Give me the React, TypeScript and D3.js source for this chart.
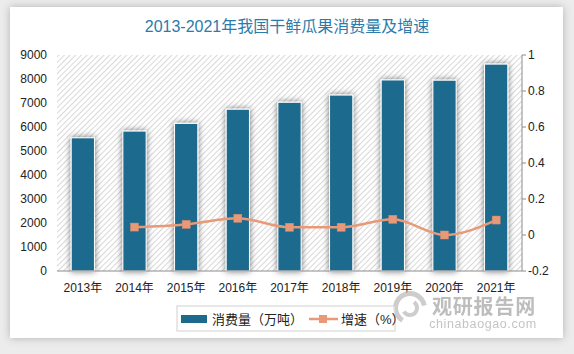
import * as d3 from "d3";

const years = ["2013年", "2014年", "2015年", "2016年", "2017年", "2018年", "2019年", "2020年", "2021年"];
const consumption = [5550, 5830, 6150, 6740, 7030, 7330, 7960, 7950, 8620];
const growth: (number | null)[] = [null, 0.044, 0.059, 0.093, 0.043, 0.043, 0.087, 0.0, 0.083];
const leftTicks = [0, 1000, 2000, 3000, 4000, 5000, 6000, 7000, 8000, 9000];
const rightTicks = [-0.2, 0, 0.2, 0.4, 0.6, 0.8, 1];

const W = 574;
const H = 354;
const M = { left: 57, right: 522, top: 55, bottom: 271 };
const BAR = "#1d6a8e";
const LINE = "#e89a78";
const FONT = "'Liberation Sans', Arial, 'Noto Sans CJK SC', sans-serif";

export default function App() {
    const x = d3.scaleBand<string>().domain(years).range([M.left, M.right]);
    const yL = d3.scaleLinear().domain([0, 9000]).range([M.bottom, M.top]);
    const yR = d3.scaleLinear().domain([-0.2, 1]).range([M.bottom, M.top]);
    const bw = x.bandwidth() * 0.45;
    const cx = (d: string) => (x(d) ?? 0) + x.bandwidth() / 2;

    const pts = years
        .map((y, i) => ({ y, v: growth[i] }))
        .filter((p) => p.v !== null) as { y: string; v: number }[];
    const line = d3
        .line<{ y: string; v: number }>()
        .x((d) => cx(d.y))
        .y((d) => yR(d.v))
        .curve(d3.curveMonotoneX);

    // watermark logo swirl
    const swirl = d3.arc()({ innerRadius: 12, outerRadius: 17, startAngle: -2.6, endAngle: 1.4 }) ?? "";
    const swirl2 = d3.arc()({ innerRadius: 5, outerRadius: 9, startAngle: 0.6, endAngle: 4.2 }) ?? "";

    return (
        <div style={{ position: "fixed", left: 0, top: 0, width: W, height: H }}>
            <svg width={W} height={H} style={{ display: "block", fontFamily: FONT }}>
                <defs>
                    <pattern id="hatch" width="4" height="4" patternUnits="userSpaceOnUse" patternTransform="rotate(45)">
                        <rect width="4" height="4" fill="#ffffff" />
                        <line x1="0" y1="0" x2="0" y2="4" stroke="#cfcfcf" strokeWidth="1.6" />
                    </pattern>
                    <filter id="cardShadow" x="-10%" y="-10%" width="120%" height="120%">
                        <feDropShadow dx="0" dy="0" stdDeviation="4" floodColor="#000" floodOpacity="0.25" />
                    </filter>
                    <filter id="barShadow" x="-60%" y="-10%" width="220%" height="120%">
                        <feDropShadow dx="0" dy="0" stdDeviation="3" floodColor="#000" floodOpacity="0.55" />
                    </filter>
                </defs>
                <rect x={0} y={0} width={W} height={H} fill="#ececec" />
                <rect x={10} y={7} width={553} height={331} fill="#ffffff" filter="url(#cardShadow)" />

                <text x={287} y={32} textAnchor="middle" fontSize={16} fill="#2b7bab">
                    2013-2021年我国干鲜瓜果消费量及增速
                </text>

                <rect x={M.left} y={M.top} width={M.right - M.left} height={M.bottom - M.top} fill="url(#hatch)" />

                {years.map((y, i) => (
                    <rect
                        key={y}
                        x={cx(y) - bw / 2}
                        y={yL(consumption[i])}
                        width={bw}
                        height={M.bottom - yL(consumption[i])}
                        fill={BAR}
                        stroke="#ffffff"
                        strokeWidth={1}
                        filter="url(#barShadow)"
                    />
                ))}

                <line x1={M.left} x2={M.right} y1={M.bottom} y2={M.bottom} stroke="#8c8c8c" />
                <line x1={M.right} x2={M.right} y1={M.top} y2={M.bottom} stroke="#8c8c8c" />

                {leftTicks.map((t) => (
                    <text key={t} x={47} y={yL(t) + 4} textAnchor="end" fontSize={12} fill="#222">
                        {t}
                    </text>
                ))}
                {rightTicks.map((t) => (
                    <g key={t}>
                        <line x1={M.right} x2={M.right + 4} y1={yR(t)} y2={yR(t)} stroke="#8c8c8c" />
                        <text x={M.right + 6} y={yR(t) + 4} fontSize={12} fill="#222">
                            {t}
                        </text>
                    </g>
                ))}
                {years.map((y) => (
                    <text key={y} x={cx(y)} y={292} textAnchor="middle" fontSize={12} fill="#222">
                        {y}
                    </text>
                ))}

                <path d={line(pts) ?? ""} fill="none" stroke={LINE} strokeWidth={2.5} />
                {pts.map((p) => (
                    <rect key={p.y} x={cx(p.y) - 4} y={yR(p.v) - 4} width={8} height={8} fill={LINE} stroke="#d98a6a" strokeWidth={0.5} />
                ))}

                <g opacity={0.75}>
                    <path d={swirl} transform="translate(410,308)" fill="#bdbdbd" />
                    <path d={swirl2} transform="translate(410,308)" fill="#bdbdbd" />
                    <text x={484} y={314} textAnchor="middle" fontSize={20} fontWeight="bold" fill="#a8a8a8" letterSpacing={0.8}>
                        观研报告网
                    </text>
                    <text x={483} y={328} textAnchor="middle" fontSize={12.5} fill="#b0b0b0" letterSpacing={0.6}>
                        chinabaogao.com
                    </text>
                </g>

                <rect x={177} y={306} width={218} height={25} fill="#ffffff" fillOpacity={0.6} stroke="#d0d0d0" />
                <rect x={181} y={315} width={26} height={8} fill={BAR} />
                <text x={212} y={324} fontSize={13} fill="#222">
                    消费量（万吨）
                </text>
                <line x1={309} x2={338} y1={319} y2={319} stroke={LINE} strokeWidth={2.5} />
                <rect x={319} y={315} width={8} height={8} fill={LINE} />
                <text x={341} y={324} fontSize={13} fill="#222">
                    增速（%）
                </text>
            </svg>
        </div>
    );
}
